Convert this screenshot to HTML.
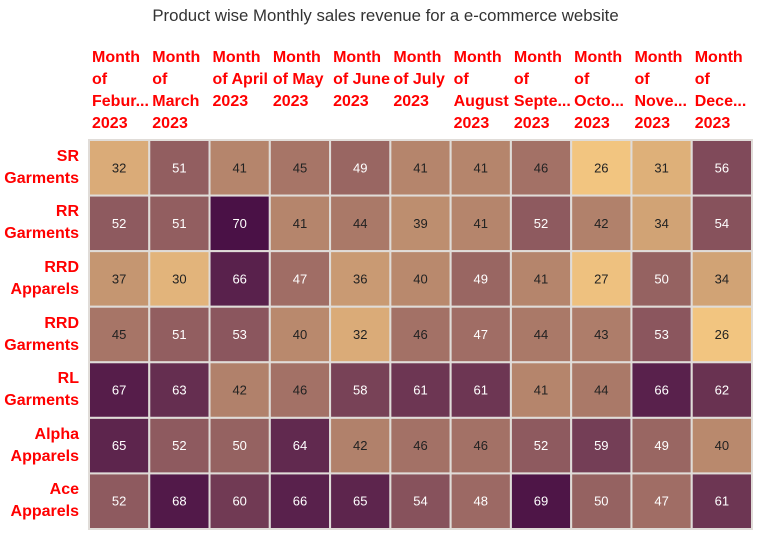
<!DOCTYPE html>
<html><head><meta charset="utf-8"><style>
body{margin:0;width:771px;height:555px;background:#fff;font-family:"Liberation Sans",sans-serif;position:relative;overflow:hidden}
.t{position:absolute;left:0;width:771px;top:6px;text-align:center;font-size:16.8px;color:#333}
.h{position:absolute;top:47px;color:#f00;font-weight:bold;font-size:16px;line-height:22px;white-space:nowrap}
.r{position:absolute;right:692px;color:#f00;font-weight:bold;font-size:16px;line-height:22px;text-align:right}
</style></head><body>
<div class="t">Product wise Monthly sales revenue for a e-commerce website</div>
<div id="c"></div>
<svg id="s" width="771" height="555" style="position:absolute;left:0;top:0"></svg>
<script>
const months=["Month\nof\nFebur...\n2023","Month\nof\nMarch\n2023","Month\nof April\n2023","Month\nof May\n2023","Month\nof June\n2023","Month\nof July\n2023","Month\nof\nAugust\n2023","Month\nof\nSepte...\n2023","Month\nof\nOcto...\n2023","Month\nof\nNove...\n2023","Month\nof\nDece...\n2023"];
const products=["SR\nGarments","RR\nGarments","RRD\nApparels","RRD\nGarments","RL\nGarments","Alpha\nApparels","Ace\nApparels"];
const values=[
[32,51,41,45,49,41,41,46,26,31,56],
[52,51,70,41,44,39,41,52,42,34,54],
[37,30,66,47,36,40,49,41,27,50,34],
[45,51,53,40,32,46,47,44,43,53,26],
[67,63,42,46,58,61,61,41,44,66,62],
[65,52,50,64,42,46,46,52,59,49,40],
[52,68,60,66,65,54,48,69,50,47,61]];
const x0=89,x1=752,y0=140,y1=529;
const cw=(x1-x0)/months.length,ch=(y1-y0)/products.length;
const stops=[[26,[242,197,128]],[41,[181,133,108]],[56,[128,74,90]],[70,[74,17,70]]];
function col(v){for(let i=0;i<stops.length-1;i++){const[a,ca]=stops[i],[b,cb]=stops[i+1];if(v<=b||i==stops.length-2){let t=Math.max(0,Math.min(1,(v-a)/(b-a)));return 'rgb('+ca.map((c,k)=>Math.round(c+(cb[k]-c)*t)).join(',')+')';}}}
const s=document.getElementById('s'),c=document.getElementById('c');const NS='http://www.w3.org/2000/svg';
months.forEach((m,j)=>{const d=document.createElement('div');d.className='h';d.style.left=(x0+j*cw+3)+'px';d.innerHTML=m.split('\n').join('<br>');


c.appendChild(d);});
products.forEach((p,i)=>{const d=document.createElement('div');d.className='r';d.style.top=(y0+i*ch+ch/2-22)+'px';d.innerHTML=p.split('\n').join('<br>');


c.appendChild(d);});
values.forEach((row,i)=>row.forEach((v,j)=>{
const r=document.createElementNS(NS,'rect');r.setAttribute('x',x0+j*cw);r.setAttribute('y',y0+i*ch);r.setAttribute('width',cw);r.setAttribute('height',ch);r.setAttribute('fill',col(v));r.setAttribute('stroke','#e0dcd8');r.setAttribute('stroke-width','2');


s.appendChild(r);
const t=document.createElementNS(NS,'text');t.setAttribute('x',x0+j*cw+cw/2);t.setAttribute('y',y0+i*ch+ch/2+4.5);t.setAttribute('text-anchor','middle');t.setAttribute('font-size','13');t.setAttribute('font-family','Liberation Sans, sans-serif');t.setAttribute('fill',v>=47?'#fff':'#222');t.textContent=v;


s.appendChild(t);}));
</script>
</body></html>
